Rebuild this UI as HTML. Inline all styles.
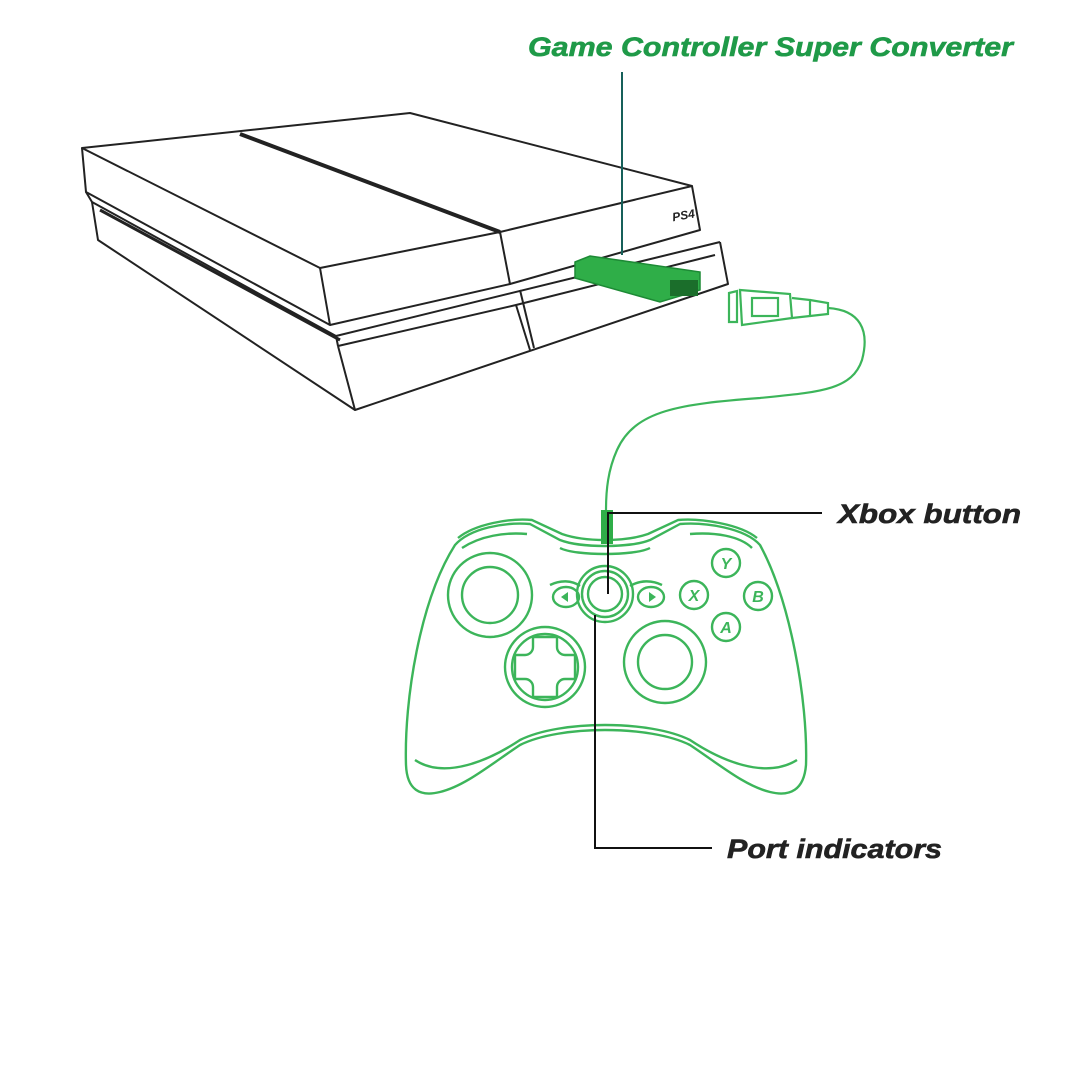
<!DOCTYPE html>
<html><head><meta charset="utf-8"><style>
html,body{margin:0;padding:0;background:#fff;}
svg{display:block}
text{font-family:"Liberation Sans",sans-serif;font-weight:bold;font-style:italic;}
</style></head><body>
<svg width="1080" height="1080" viewBox="0 0 1080 1080" xmlns="http://www.w3.org/2000/svg">
<rect width="1080" height="1080" fill="#fff"/>
<!-- PS4 -->
<g fill="none" stroke="#222" stroke-width="2" stroke-linejoin="round">
  <path d="M82,148 L410,113 L692,186 L500,232 L320,268 Z"/>
  <path d="M240,134 L500,232" stroke-width="4"/>
  <path d="M82,148 L86,192 L330,325 L320,268"/>
  <path d="M330,325 L510,284 L500,232"/>
  <path d="M510,284 L700,230 L692,186"/>
  <text x="672" y="220" font-size="12" fill="#222" stroke="none" font-style="normal" font-weight="normal" transform="rotate(-10 680 215)">PS4</text>
  <path d="M86,192 L92,202 L336,336 L720,242"/>
  <path d="M336,336 L338,346"/>
  <path d="M100,210 L340,340" stroke-width="3"/>
  <path d="M92,202 L98,240 L355,410 L728,284 L720,242"/>
  <path d="M338,346 L355,410"/>
  <path d="M338,346 L516,305 L530,350"/>
  <path d="M516,305 L715,255"/>
  <path d="M520,290 L534,348"/>
</g>
<!-- converter -->
<path d="M575,262 L590,256 L700,272 L700,290 L660,302 L575,278 Z" fill="#2fae48" stroke="#1d8a35" stroke-width="1.5"/>
<rect x="670" y="280" width="28" height="16" fill="#1b6e2b"/>
<!-- USB plug -->
<g fill="none" stroke="#3cb55a" stroke-width="2.2">
  <path d="M729,293 L737,291 L737,322 L729,322 Z"/>
  <path d="M740,290 L790,294 L792,318 L742,325 Z"/>
  <rect x="752" y="298" width="26" height="18"/>
  <path d="M792,298 L810,300 L810,316 L792,318"/>
  <path d="M810,300 L828,303 L828,314 L810,316"/>
  <path d="M828,308 C860,310 870,330 862,360 C852,390 820,392 760,398 C680,404 635,410 617,450 C608,470 606,490 606,510"/>
</g>
<!-- controller -->
<g fill="none" stroke="#3cb55a" stroke-width="2.4">
  <path d="M455,545 C470,528 505,522 530,524 L560,540 C580,548 630,548 650,540 L680,524 C705,522 745,528 760,545 C790,600 808,700 806,765 C804,790 790,797 770,792 C745,786 720,765 690,745 C650,725 560,725 520,745 C490,765 465,786 440,792 C420,797 407,790 406,765 C404,700 420,600 455,545 Z"/>
  <path d="M458,538 C475,524 510,518 532,520 L562,534 C585,542 625,542 648,534 L678,520 C700,518 740,524 757,538"/>
  <path d="M462,548 C480,536 505,532 527,534"/>
  <path d="M690,534 C715,532 740,536 752,548"/>
  <path d="M560,548 C575,556 635,556 650,548"/>
  <path d="M415,760 C445,780 490,760 520,740 C560,720 650,720 690,740 C720,760 765,780 797,760"/>
  <circle cx="490" cy="595" r="42"/>
  <circle cx="490" cy="595" r="28"/>
  <circle cx="545" cy="667" r="40"/>
  <circle cx="545" cy="667" r="33"/>
  <path d="M533,637 h24 v10 a8 8 0 0 0 8 8 h10 v24 h-10 a8 8 0 0 0 -8 8 v10 h-24 v-10 a8 8 0 0 0 -8 -8 h-10 v-24 h10 a8 8 0 0 0 8 -8 Z"/>
  <circle cx="665" cy="662" r="41"/>
  <circle cx="665" cy="662" r="27"/>
  <circle cx="605" cy="594" r="28"/>
  <circle cx="605" cy="594" r="23"/>
  <circle cx="605" cy="594" r="17"/>
  <ellipse cx="566" cy="597" rx="13" ry="10"/>
  <ellipse cx="651" cy="597" rx="13" ry="10"/>
  <path d="M550,585 C560,580 572,580 580,586"/>
  <path d="M630,586 C640,580 652,580 662,585"/>
  <circle cx="726" cy="563" r="14"/>
  <circle cx="694" cy="595" r="14"/>
  <circle cx="758" cy="596" r="14"/>
  <circle cx="726" cy="627" r="14"/>
</g>
<g fill="#3cb55a" font-family="Liberation Sans,sans-serif" font-weight="bold" font-size="16" text-anchor="middle">
  <text x="726" y="569" font-style="normal">Y</text>
  <text x="694" y="601" font-style="normal">X</text>
  <text x="758" y="602" font-style="normal">B</text>
  <text x="726" y="633" font-style="normal">A</text>
  <path d="M561,597 l7,-5 v10 Z"/>
  <path d="M656,597 l-7,-5 v10 Z"/>
</g>
<rect x="601" y="510" width="12" height="34" fill="#2fae48"/>
<!-- leaders -->
<g fill="none" stroke="#111" stroke-width="2">
  <path d="M622,72 L622,255" stroke="#16605a"/>
  <path d="M822,513 L608,513 L608,594"/>
  <path d="M595,615 L595,848 L712,848"/>
</g>
<text x="528" y="56" font-size="27" fill="#1f9a48" stroke="#1f9a48" stroke-width="0.6" textLength="485" lengthAdjust="spacingAndGlyphs">Game Controller Super Converter</text>
<text x="838" y="523" font-size="27" fill="#222" stroke="#222" stroke-width="0.6" textLength="183" lengthAdjust="spacingAndGlyphs">Xbox button</text>
<text x="727" y="858" font-size="27" fill="#222" stroke="#222" stroke-width="0.6" textLength="215" lengthAdjust="spacingAndGlyphs">Port indicators</text>
</svg>
</body></html>
